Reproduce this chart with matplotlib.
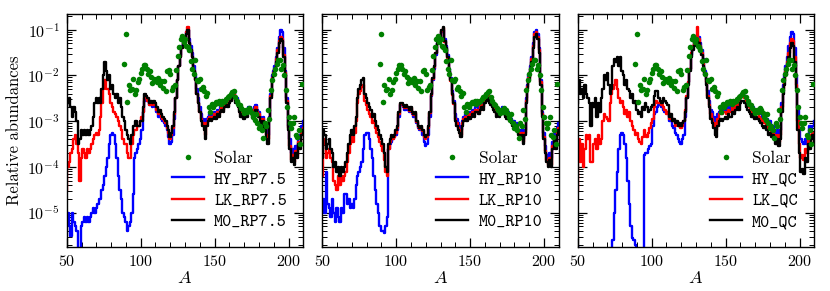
import numpy as np
import matplotlib
matplotlib.use('Agg')
import matplotlib.pyplot as plt
from matplotlib.ticker import MultipleLocator, LogLocator, LogFormatterSciNotation, NullFormatter

plt.rcParams['font.family'] = 'serif'
plt.rcParams['font.serif'] = ['cmr10', 'DejaVu Serif']
plt.rcParams['mathtext.fontset'] = 'cm'
plt.rcParams['axes.formatter.use_mathtext'] = True
plt.rcParams['font.size'] = 11

# ── data: log10 relative abundances, one value per mass number A = 50..210 ──
mass = np.arange(50, 211)

# panel 1 : RP7.5
hy_rp75 = [-5.3, -5.0, -5.3, -5.5, -5.0, -5.2, -5.3, -5.4, -5.9, -6.2,
           -5.3, -5.2, -5.1, -5.2, -5.1, -5.2, -5.1, -5.0, -4.9, -5.0,
           -4.9, -4.8, -4.7, -4.7, -4.5, -4.4, -4.2, -4.0, -3.8, -3.5,
           -3.3, -3.25, -3.3, -3.5, -3.8, -4.2, -4.5, -4.7, -5.0, -5.1,
           -5.2, -5.4, -5.3, -5.2, -5.0, -4.6, -3.8, -3.7, -3.6, -3.5,
           -3.4, -3.2, -2.8, -2.55, -2.5, -2.55, -2.65, -2.65, -2.7, -2.65,
           -2.7, -2.8, -2.9, -2.85, -2.95, -3.0, -3.05, -3.1, -3.2, -3.35,
           -3.5, -3.45, -3.3, -2.95, -2.5, -2.1, -1.8, -1.55, -1.35, -1.25,
           -1.2, -1.05, -1.0, -1.2, -1.35, -1.5, -1.8, -2.0, -2.3, -2.5,
           -2.7, -2.85, -2.95, -3.0, -3.1, -2.95, -2.9, -2.85, -2.9, -2.85,
           -2.8, -2.85, -2.75, -2.8, -2.7, -2.65, -2.7, -2.6, -2.55, -2.6,
           -2.5, -2.45, -2.4, -2.35, -2.5, -2.5, -2.6, -2.7, -2.8, -2.75,
           -2.85, -2.75, -2.8, -2.7, -2.7, -2.75, -2.8, -2.7, -2.65, -2.75,
           -2.8, -2.9, -3.0, -2.9, -3.1, -3.2, -3.3, -2.9, -2.4, -2.0,
           -1.9, -1.8, -1.6, -1.4, -1.15, -1.0, -1.05, -1.4, -1.9, -2.5,
           -3.1, -3.4, -3.7, -3.6, -3.75, -3.55, -3.6, -3.3, -3.4, -3.1,
           -3.0]
lk_rp75 = [-4.5, -4.0, -3.9, -3.7, -3.6, -3.4, -3.3, -3.5, -3.7, -4.3,
           -3.8, -3.6, -3.7, -3.8, -3.6, -3.7, -3.6, -3.5, -3.4, -3.3,
           -3.25, -3.3, -3.2, -2.9, -2.6, -2.3, -2.1, -2.3, -2.3, -2.4,
           -2.6, -2.7, -2.8, -2.85, -2.9, -3.0, -3.1, -3.2, -3.4, -3.5,
           -3.5, -3.7, -3.8, -3.8, -3.5, -3.3, -3.2, -3.2, -3.1, -3.1,
           -3.0, -2.9, -2.8, -2.5, -2.5, -2.55, -2.65, -2.6, -2.65, -2.6,
           -2.65, -2.75, -2.85, -2.8, -2.9, -2.95, -3.0, -3.05, -3.15, -3.25,
           -3.4, -3.3, -3.15, -2.85, -2.5, -2.1, -1.8, -1.6, -1.4, -1.3,
           -1.25, -1.05, -0.95, -1.3, -1.45, -1.6, -1.9, -2.1, -2.4, -2.6,
           -2.8, -2.95, -3.05, -3.1, -3.3, -3.05, -2.95, -2.9, -2.95, -2.9,
           -2.85, -2.9, -2.8, -2.85, -2.75, -2.7, -2.75, -2.65, -2.6, -2.65,
           -2.55, -2.5, -2.45, -2.4, -2.55, -2.55, -2.65, -2.75, -2.85, -2.8,
           -2.9, -2.8, -2.85, -2.75, -2.75, -2.8, -2.85, -2.75, -2.7, -2.8,
           -2.85, -2.95, -3.05, -2.95, -3.15, -3.3, -3.4, -2.95, -2.45, -2.05,
           -1.95, -1.85, -1.65, -1.45, -1.25, -1.15, -1.2, -1.55, -1.95, -2.55,
           -3.15, -3.55, -3.85, -3.75, -3.9, -3.65, -3.75, -3.45, -3.55, -3.25,
           -3.15]
m0_rp75 = [-3.3, -2.6, -2.5, -2.7, -2.9, -2.7, -2.8, -3.0, -3.5, -3.4,
           -3.2, -3.3, -3.2, -3.3, -3.2, -3.3, -3.2, -3.1, -2.9, -2.6,
           -2.5, -2.6, -2.5, -2.6, -2.3, -2.0, -1.7, -1.9, -2.1, -2.0,
           -2.3, -2.2, -2.4, -2.5, -2.4, -2.6, -2.5, -2.7, -2.9, -3.0,
           -3.2, -3.3, -3.4, -3.5, -3.3, -3.1, -3.1, -3.0, -3.1, -3.1,
           -3.0, -3.0, -2.7, -2.4, -2.45, -2.5, -2.6, -2.55, -2.6, -2.55,
           -2.6, -2.7, -2.8, -2.75, -2.85, -2.9, -2.95, -3.0, -3.1, -3.2,
           -3.35, -3.25, -3.1, -2.8, -2.5, -2.1, -1.8, -1.6, -1.4, -1.3,
           -1.25, -1.1, -1.0, -1.3, -1.45, -1.6, -1.9, -2.1, -2.4, -2.6,
           -2.8, -3.0, -3.1, -3.2, -3.4, -3.1, -3.0, -2.95, -3.0, -2.95,
           -2.9, -2.95, -2.85, -2.9, -2.8, -2.75, -2.8, -2.7, -2.65, -2.7,
           -2.6, -2.55, -2.5, -2.45, -2.6, -2.6, -2.7, -2.8, -2.9, -2.85,
           -2.95, -2.85, -2.9, -2.8, -2.8, -2.85, -2.9, -2.8, -2.75, -2.85,
           -2.9, -3.0, -3.1, -3.0, -3.2, -3.4, -3.5, -3.0, -2.5, -2.1,
           -2.0, -1.9, -1.7, -1.5, -1.3, -1.2, -1.25, -1.6, -2.0, -2.6,
           -3.2, -3.6, -3.9, -3.8, -3.95, -3.7, -3.8, -3.5, -3.6, -3.3,
           -3.2]

# panel 2 : RP10
hy_rp10 = [-4.9, -4.7, -5.0, -4.1, -4.8, -4.9, -5.1, -4.7, -5.0, -5.2,
           -4.9, -5.1, -5.2, -4.9, -5.0, -4.6, -4.6, -4.8, -4.7, -4.9,
           -4.8, -4.9, -4.7, -4.4, -4.2, -4.1, -4.0, -3.9, -3.6, -3.3,
           -3.25, -3.25, -3.4, -3.6, -3.8, -4.2, -4.5, -4.8, -5.0, -5.3,
           -5.4, -5.4, -5.45, -5.3, -5.1, -3.6, -3.5, -3.45, -3.4, -3.35,
           -3.3, -3.2, -2.9, -2.65, -2.65, -2.7, -2.75, -2.7, -2.75, -2.8,
           -2.75, -2.85, -2.9, -2.85, -3.05, -3.15, -3.2, -3.2, -3.3, -3.45,
           -3.55, -3.5, -3.3, -2.9, -2.45, -2.1, -1.85, -1.55, -1.3, -1.2,
           -1.15, -1.05, -1.0, -1.2, -1.35, -1.55, -1.85, -2.05, -2.35, -2.55,
           -2.85, -2.95, -3.05, -3.1, -3.2, -3.0, -2.9, -2.85, -2.9, -2.8,
           -2.85, -2.8, -2.75, -2.8, -2.7, -2.7, -2.75, -2.65, -2.6, -2.65,
           -2.5, -2.45, -2.4, -2.5, -2.55, -2.6, -2.65, -2.7, -2.8, -2.75,
           -2.8, -2.75, -2.7, -2.75, -2.8, -2.85, -2.8, -2.9, -2.95, -3.0,
           -3.0, -3.1, -3.05, -3.2, -3.3, -3.2, -3.4, -3.2, -2.5, -2.2,
           -2.0, -1.8, -1.6, -1.3, -1.05, -1.0, -1.1, -1.4, -2.1, -2.8,
           -3.25, -3.55, -3.75, -3.85, -3.7, -3.8, -3.45, -3.25, -3.45, -3.15,
           -3.05]
lk_rp10 = [-4.2, -3.4, -3.5, -3.8, -3.7, -3.6, -3.8, -3.9, -4.3, -4.4,
           -4.5, -4.2, -4.4, -4.2, -4.3, -4.2, -4.1, -3.9, -3.7, -3.5,
           -3.35, -3.45, -3.25, -3.0, -2.6, -2.4, -2.35, -2.25, -2.2, -2.55,
           -2.65, -2.75, -2.85, -2.9, -3.05, -3.0, -3.15, -3.25, -3.35, -3.45,
           -3.55, -3.65, -3.85, -4.1, -4.2, -3.6, -3.45, -3.35, -3.4, -3.35,
           -3.25, -3.15, -2.85, -2.62, -2.62, -2.67, -2.72, -2.67, -2.72, -2.77,
           -2.72, -2.82, -2.87, -2.82, -3.02, -3.12, -3.17, -3.12, -3.22, -3.35,
           -3.4, -3.35, -3.15, -2.82, -2.42, -2.07, -1.82, -1.52, -1.32, -1.27,
           -1.17, -1.02, -0.97, -1.27, -1.42, -1.62, -1.92, -2.12, -2.42, -2.62,
           -2.95, -3.05, -3.15, -3.2, -3.3, -3.05, -2.95, -2.9, -2.95, -2.85,
           -2.9, -2.85, -2.8, -2.85, -2.75, -2.75, -2.8, -2.7, -2.65, -2.7,
           -2.55, -2.5, -2.45, -2.55, -2.6, -2.65, -2.7, -2.75, -2.85, -2.8,
           -2.85, -2.8, -2.75, -2.8, -2.85, -2.9, -2.85, -2.95, -3.0, -3.05,
           -3.05, -3.15, -3.1, -3.25, -3.35, -3.25, -3.45, -3.25, -2.55, -2.25,
           -2.05, -1.85, -1.65, -1.35, -1.1, -1.05, -1.15, -1.45, -2.15, -2.85,
           -3.35, -3.65, -3.85, -3.95, -3.8, -3.95, -3.55, -3.35, -3.55, -3.25,
           -3.15]
m0_rp10 = [-3.8, -3.2, -3.3, -3.6, -3.5, -3.4, -3.6, -3.7, -4.0, -3.9,
           -4.1, -4.0, -4.2, -4.0, -4.1, -4.0, -3.9, -3.7, -3.5, -3.3,
           -3.2, -3.3, -3.1, -2.9, -2.5, -2.3, -2.2, -2.1, -2.05, -2.4,
           -2.5, -2.6, -2.7, -2.75, -2.9, -2.85, -3.0, -3.1, -3.2, -3.3,
           -3.4, -3.5, -3.7, -4.0, -4.1, -3.5, -3.4, -3.3, -3.35, -3.3,
           -3.2, -3.1, -2.8, -2.6, -2.6, -2.65, -2.7, -2.65, -2.7, -2.75,
           -2.7, -2.8, -2.85, -2.8, -3.0, -3.1, -3.15, -3.1, -3.2, -3.3,
           -3.35, -3.3, -3.1, -2.8, -2.4, -2.05, -1.8, -1.5, -1.3, -1.25,
           -1.15, -1.0, -0.95, -1.25, -1.4, -1.6, -1.9, -2.1, -2.4, -2.6,
           -3.0, -3.1, -3.2, -3.25, -3.35, -3.1, -3.0, -2.95, -3.0, -2.9,
           -2.95, -2.9, -2.85, -2.9, -2.8, -2.8, -2.85, -2.75, -2.7, -2.75,
           -2.6, -2.55, -2.5, -2.6, -2.65, -2.7, -2.75, -2.8, -2.9, -2.85,
           -2.9, -2.85, -2.8, -2.85, -2.9, -2.95, -2.9, -3.0, -3.05, -3.1,
           -3.1, -3.2, -3.15, -3.3, -3.4, -3.3, -3.5, -3.3, -2.6, -2.3,
           -2.1, -1.9, -1.7, -1.4, -1.15, -1.1, -1.2, -1.5, -2.2, -2.9,
           -3.4, -3.7, -3.9, -4.0, -3.85, -4.0, -3.6, -3.4, -3.6, -3.3,
           -3.2]

# panel 3 : QC
hy_qc = [-5.75, -5.8, -6.5, -7.0, -7.0, -7.0, -7.0, -7.0, -7.0, -7.0,
         -7.0, -7.0, -7.0, -7.0, -7.0, -7.0, -7.0, -7.0, -7.0, -7.0,
         -7.0, -7.0, -7.0, -6.5, -5.6, -5.0, -4.5, -4.1, -3.6, -3.3,
         -3.25, -3.3, -3.5, -3.8, -4.3, -4.8, -5.3, -5.55, -5.6, -5.7,
         -6.0, -6.5, -7.0, -7.0, -6.0, -3.75, -3.7, -3.7, -3.6, -3.55,
         -3.5, -3.1, -2.85, -2.8, -2.7, -2.65, -2.65, -2.7, -2.75, -2.8,
         -2.8, -2.85, -3.0, -3.0, -3.1, -3.15, -3.25, -3.3, -3.4, -3.45,
         -3.5, -3.4, -3.3, -2.9, -2.5, -2.15, -1.85, -1.55, -1.35, -1.25,
         -1.2, -1.15, -1.15, -1.3, -1.45, -1.65, -1.9, -2.1, -2.35, -2.55,
         -2.75, -2.8, -2.9, -3.0, -3.05, -2.85, -2.8, -2.75, -2.8, -2.7,
         -2.75, -2.75, -2.7, -2.75, -2.7, -2.65, -2.7, -2.6, -2.55, -2.6,
         -2.45, -2.4, -2.4, -2.45, -2.55, -2.6, -2.65, -2.7, -2.75, -2.7,
         -2.8, -2.75, -2.8, -2.8, -2.85, -2.9, -2.9, -2.85, -2.95, -3.0,
         -3.0, -3.1, -3.1, -3.2, -3.3, -3.2, -3.35, -3.2, -2.6, -2.2,
         -2.0, -1.8, -1.6, -1.35, -1.15, -1.05, -1.1, -1.4, -2.0, -2.7,
         -3.2, -3.4, -3.45, -3.5, -3.4, -3.5, -3.3, -3.1, -3.2, -3.1,
         -3.0]
lk_qc = [-4.5, -3.4, -3.9, -3.5, -4.0, -3.6, -3.3, -3.4, -3.3, -3.9,
         -3.9, -3.5, -3.4, -3.6, -3.3, -3.5, -3.4, -3.0, -2.85, -2.9,
         -2.95, -3.0, -2.6, -2.4, -2.3, -2.2, -2.1, -2.3, -2.5, -2.6,
         -2.55, -2.7, -2.85, -2.75, -2.9, -2.8, -3.0, -3.1, -3.2, -3.3,
         -3.25, -3.4, -3.45, -3.5, -3.35, -3.2, -3.3, -3.35, -3.25, -3.15,
         -3.05, -2.95, -2.7, -2.55, -2.6, -2.6, -2.55, -2.65, -2.7, -2.75,
         -2.85, -2.8, -2.95, -2.9, -3.0, -3.0, -3.1, -3.05, -3.1, -3.1,
         -3.15, -3.1, -3.0, -2.75, -2.45, -2.15, -1.85, -1.5, -1.35, -1.25,
         -1.2, -0.95, -1.2, -1.35, -1.5, -1.7, -1.95, -2.15, -2.45, -2.65,
         -2.85, -2.95, -3.05, -3.15, -3.2, -2.95, -2.85, -2.8, -2.85, -2.8,
         -2.8, -2.85, -2.75, -2.8, -2.8, -2.7, -2.75, -2.65, -2.6, -2.65,
         -2.5, -2.45, -2.45, -2.5, -2.6, -2.65, -2.7, -2.75, -2.8, -2.75,
         -2.85, -2.8, -2.85, -2.9, -2.95, -3.0, -3.05, -3.0, -3.1, -3.2,
         -3.15, -3.25, -3.2, -3.3, -3.4, -3.3, -3.45, -3.3, -2.7, -2.3,
         -2.1, -1.9, -1.7, -1.5, -1.3, -1.2, -1.25, -1.6, -2.2, -3.0,
         -3.5, -3.8, -3.75, -3.85, -3.6, -3.7, -3.4, -3.5, -3.3, -3.25,
         -3.4]
m0_qc = [-2.6, -2.1, -2.4, -2.3, -2.5, -2.2, -2.4, -2.5, -2.6, -3.1,
         -2.6, -2.7, -2.5, -2.9, -2.6, -2.8, -2.5, -2.3, -2.0, -2.1,
         -1.95, -2.2, -2.4, -2.3, -1.8, -1.65, -1.7, -1.6, -1.8, -1.6,
         -1.9, -2.0, -2.2, -2.1, -2.3, -2.35, -2.5, -2.4, -2.6, -2.55,
         -2.75, -2.85, -2.8, -2.9, -2.7, -2.75, -2.6, -2.7, -2.8, -2.75,
         -2.7, -2.65, -2.45, -2.35, -2.35, -2.5, -2.55, -2.6, -2.5, -2.55,
         -2.6, -2.65, -2.9, -2.85, -3.0, -2.95, -3.05, -3.0, -3.1, -3.05,
         -3.1, -3.05, -3.0, -2.8, -2.5, -2.2, -1.9, -1.6, -1.45, -1.35,
         -1.3, -1.25, -1.3, -1.45, -1.55, -1.8, -2.0, -2.2, -2.5, -2.7,
         -2.95, -3.05, -3.15, -3.3, -3.35, -3.1, -3.0, -2.95, -3.0, -2.95,
         -2.9, -2.95, -2.85, -2.9, -2.9, -2.8, -2.85, -2.75, -2.7, -2.75,
         -2.6, -2.55, -2.55, -2.6, -2.7, -2.75, -2.8, -2.85, -2.9, -2.85,
         -2.95, -2.9, -2.95, -3.0, -3.05, -3.1, -3.15, -3.1, -3.2, -3.3,
         -3.25, -3.35, -3.3, -3.4, -3.5, -3.4, -3.55, -3.4, -2.8, -2.4,
         -2.2, -2.0, -1.8, -1.6, -1.4, -1.3, -1.35, -1.7, -2.3, -3.2,
         -3.7, -4.1, -4.05, -4.15, -3.8, -3.9, -3.5, -3.6, -3.4, -3.3,
         -3.5]

# solar r-process abundances (log10)
solar_a = [89, 90, 91, 92, 93, 94, 95, 96, 97, 98, 99, 100, 101, 102, 103, 104,
           105, 106, 107, 108, 109, 110, 111, 112, 113, 114, 115, 116, 117, 118,
           119, 120, 121, 122, 123, 124, 125, 126, 127, 128, 129, 130, 131, 132,
           133, 134, 135, 136, 137, 138, 139, 140, 141, 142, 143, 144, 145, 146,
           147, 148, 149, 150, 151, 152, 153, 154, 155, 156, 157, 158, 159, 160,
           161, 162, 163, 164, 165, 166, 167, 168, 169, 170, 171, 172, 173, 174,
           175, 176, 177, 178, 179, 180, 181, 182, 183, 184, 185, 186, 187, 188,
           189, 190, 191, 192, 193, 194, 195, 196, 197, 198, 199, 200, 201, 202,
           203, 204, 205, 206, 207, 208, 209]
solar_log = [-1.74, -1.09, -2.58, -2.22, -2.31, -2.3, -2.07, -2.4, -2.31, -2.14,
             -2.07, -1.95, -1.86, -1.78, -1.78, -1.87, -1.98, -1.9, -2.03, -2.16,
             -2.07, -2.09, -2.14, -2.05, -2.2, -2.12, -2.27, -2.12, -2.35, -1.9,
             -1.89, -1.98, -2.31, -2.25, -2.22, -1.88, -1.57, -1.39, -1.2, -1.13,
             -1.27, -1.2, -1.35, -1.39, -1.45, -1.68, -1.86, -1.97, -1.67, -2.1,
             -2.12, -2.07, -2.3, -2.26, -2.33, -2.44, -2.38, -2.69, -2.8, -2.62,
             -2.69, -2.62, -2.58, -2.6, -2.55, -2.62, -2.55, -2.58, -2.55, -2.51,
             -2.48, -2.44, -2.4, -2.36, -2.33, -2.47, -2.55, -2.62, -2.65, -2.72,
             -2.76, -2.83, -2.76, -2.8, -2.72, -2.76, -2.83, -2.9, -2.98, -2.85,
             -3.05, -3.16, -3.1, -3.2, -3.36, -3.05, -3.1, -2.76, -2.95, -2.32,
             -2.11, -1.96, -1.85, -1.74, -1.67, -1.67, -1.85, -1.78, -2.0, -2.32,
             -2.69, -2.9, -3.05, -3.16, -3.05, -2.9, -3.3, -3.34, -3.2, -3.5,
             -2.18]

panels = [('RP7.5', hy_rp75, lk_rp75, m0_rp75),
          ('RP10', hy_rp10, lk_rp10, m0_rp10),
          ('QC', hy_qc, lk_qc, m0_qc)]

fig, axes = plt.subplots(1, 3, figsize=(8.3, 2.91), dpi=100, sharey=True)
fig.subplots_adjust(left=0.0804, right=0.9811, bottom=0.152, top=0.952, wspace=0.08)

for ax, (tag, hy, lk, m0) in zip(axes, panels):
    l_hy, = ax.plot(mass, 10.0 ** np.array(hy), color='b', lw=1.7, drawstyle='steps-mid')
    l_lk, = ax.plot(mass, 10.0 ** np.array(lk), color='r', lw=1.7, drawstyle='steps-mid')
    l_m0, = ax.plot(mass, 10.0 ** np.array(m0), color='k', lw=1.7, drawstyle='steps-mid')
    sol, = ax.plot(solar_a, 10.0 ** np.array(solar_log), 'o', color='g', ms=4.0,
                   mec='none', zorder=3)
    ax.set_yscale('log')
    ax.set_xlim(50, 210)
    ax.set_ylim(1.8e-6, 0.22)
    ax.xaxis.set_major_locator(MultipleLocator(50))
    ax.xaxis.set_minor_locator(MultipleLocator(10))
    ax.yaxis.set_major_locator(LogLocator(base=10, numticks=12))
    ax.yaxis.set_minor_locator(LogLocator(base=10, subs=np.arange(2, 10), numticks=12))
    ax.yaxis.set_major_formatter(LogFormatterSciNotation())
    ax.yaxis.set_minor_formatter(NullFormatter())
    ax.tick_params(which='both', direction='in', top=True, right=True, labelsize=11.5)
    ax.tick_params(which='major', length=6.5, width=0.9, pad=5)
    ax.tick_params(which='minor', length=3.5, width=0.7)
    for sp in ax.spines.values():
        sp.set_linewidth(1.0)
    ax.set_xlabel('$A$', fontsize=13, labelpad=1)
    leg = ax.legend([sol, l_hy, l_lk, l_m0],
                    ['Solar', 'HY_' + tag, 'LK_' + tag, 'M0_' + tag],
                    loc='lower right', frameon=False, numpoints=1,
                    handlelength=1.85, handletextpad=0.6, labelspacing=0.3,
                    borderaxespad=0.55, fontsize=12.5)
    for t in leg.get_texts()[1:]:
        t.set_fontfamily('cmtt10')

axes[0].set_ylabel('Relative abundances', fontsize=12)

fig.savefig('out.png', dpi=100)
